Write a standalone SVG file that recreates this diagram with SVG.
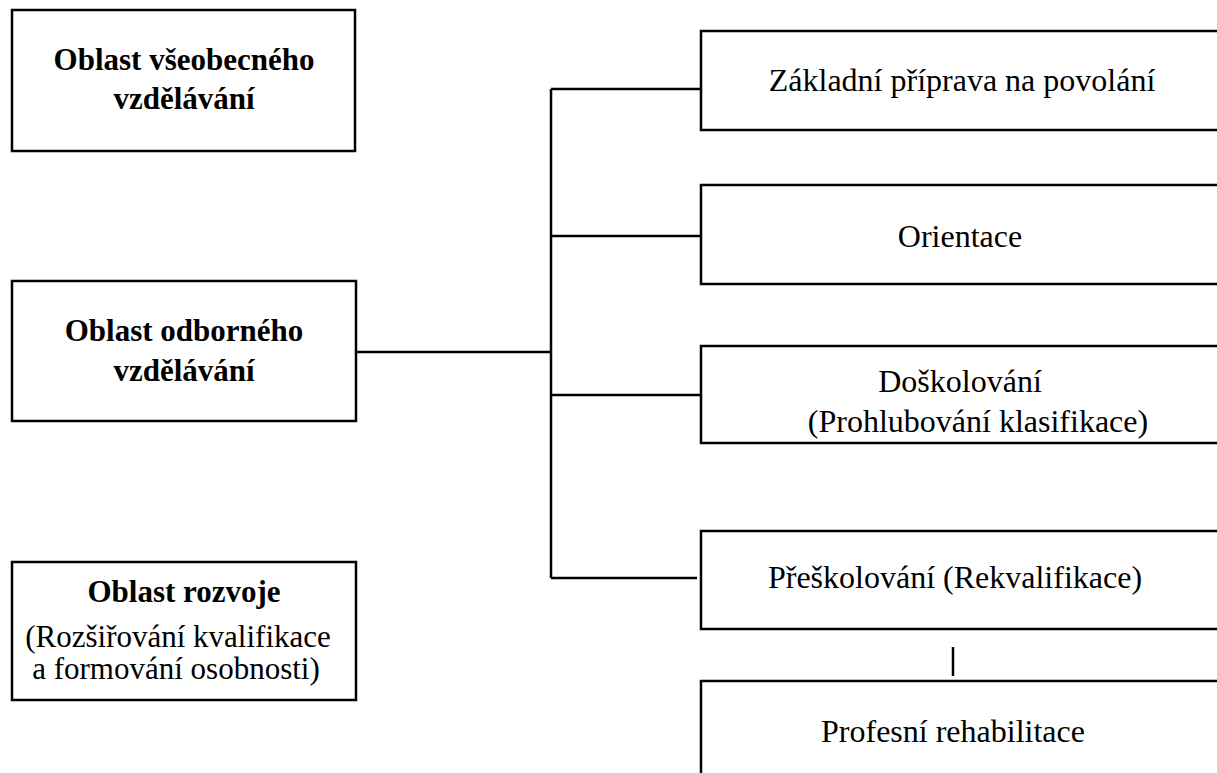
<svg xmlns="http://www.w3.org/2000/svg" width="1217" height="773" viewBox="0 0 1217 773">
<style>
.box{fill:#fff;stroke:#000;stroke-width:2.5}
.ln{fill:none;stroke:#000;stroke-width:2.5}
.t{font-family:"Liberation Serif","Times New Roman",serif;font-size:32px;fill:#000;text-anchor:middle}
.b{font-weight:bold;font-size:31px}
.s{font-size:31px}
</style>
<rect width="1217" height="773" fill="#fff"/>
<g id="connectors">
<path class="ln" d="M356 352H551M551 89V578M551 89H701M551 236H701M551 395H701M551 578H697M953 647V676"/>
</g>
<g id="n-vseobecne">
<rect class="box" x="12" y="10" width="343" height="141"/>
<text class="t b" x="184" y="70">Oblast všeobecného</text>
<text class="t b" x="184" y="109">vzdělávání</text>
</g>
<g id="n-odborne">
<rect class="box" x="12" y="281" width="344" height="140"/>
<text class="t b" x="184" y="341">Oblast odborného</text>
<text class="t b" x="184" y="381">vzdělávání</text>
</g>
<g id="n-rozvoj">
<rect class="box" x="12" y="562" width="344" height="138"/>
<text class="t b" x="184" y="602">Oblast rozvoje</text>
<text class="t s" x="178" y="647">(Rozšiřování kvalifikace</text>
<text class="t s" x="176" y="679">a formování osobnosti)</text>
</g>
<g id="n-zakladni">
<rect class="box" x="701" y="31" width="530" height="99"/>
<text class="t" x="962" y="91">Základní příprava na povolání</text>
</g>
<g id="n-orientace">
<rect class="box" x="701" y="185" width="530" height="99"/>
<text class="t" x="960" y="247">Orientace</text>
</g>
<g id="n-doskolovani">
<rect class="box" x="701" y="346" width="530" height="97"/>
<text class="t" x="960" y="392">Doškolování</text>
<text class="t" x="978" y="432">(Prohlubování klasifikace)</text>
</g>
<g id="n-preskolovani">
<rect class="box" x="701" y="531" width="530" height="98"/>
<text class="t" x="955" y="588">Přeškolování (Rekvalifikace)</text>
</g>
<g id="n-rehabilitace">
<rect class="box" x="701" y="681" width="530" height="110"/>
<text class="t" x="953" y="742">Profesní rehabilitace</text>
</g>
</svg>
